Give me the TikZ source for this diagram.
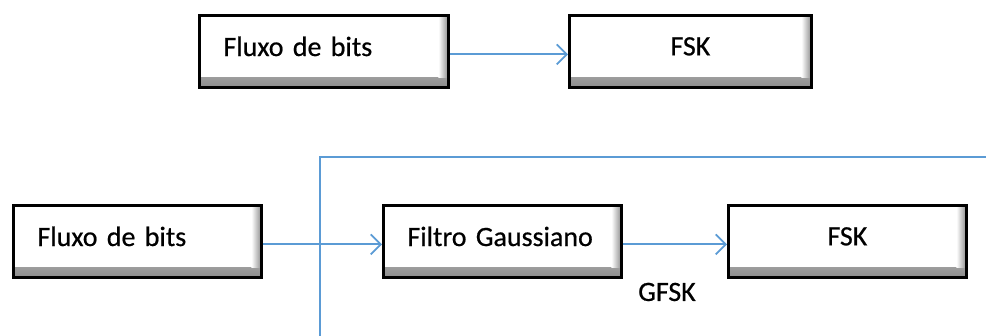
\documentclass[tikz,border=0pt]{standalone}
\usepackage{fontspec}
\setmainfont{Carlito}
\newfontfamily\heavyfont[BoldFont=Carlito, BoldFeatures={FakeBold=0.6}]{Carlito}
\usetikzlibrary{arrows.meta}
\definecolor{lineblue}{RGB}{91,155,213}
\newcommand{\liftlabel}[1]{\raisebox{5pt}[\height][\depth]{#1}}
\tikzset{
  labelfont/.style={font=\heavyfont\bfseries\fontsize{28}{32}\selectfont},
  bevelbox/.style={draw=black, line width=2.8pt, fill=white, inner sep=0pt,
    minimum height=72pt, anchor=north west, labelfont,
    path picture={
      \shade[top color=white, bottom color=black!45]
        ([yshift=10pt]path picture bounding box.south west) rectangle (path picture bounding box.south east);
      \shade[left color=white, right color=black!45]
        ([xshift=-10pt]path picture bounding box.north east) rectangle ([yshift=10pt]path picture bounding box.south east);
      \fill[white] ([xshift=2pt,yshift=-2pt]path picture bounding box.north west) rectangle ([xshift=-10pt,yshift=10pt]path picture bounding box.south east);
    }},
  leftbox/.style={bevelbox, align=left},
  centerbox/.style={bevelbox, align=center},
  flow/.style={draw=lineblue, line width=1.8pt, -{Straight Barb[length=10pt,width=20pt,line width=1.8pt]}},
  frame/.style={draw=lineblue, line width=1.8pt}
}
\begin{document}
\begin{tikzpicture}[x=1pt,y=-1pt]
\useasboundingbox (0,0) rectangle (986,336);
% top row
\node[leftbox, minimum width=249pt, text width=201pt] (f1) at (198,14) {\liftlabel{Fluxo de bits}};
\node[centerbox, minimum width=242pt, text width=242pt] (k1) at (568,14) {\liftlabel{FSK}};
\draw[flow] ([yshift=-3pt]f1.east) -- ([yshift=-3pt]k1.west);
% bottom row
\node[leftbox, minimum width=248pt, text width=200pt] (f2) at (12,204) {\liftlabel{Fluxo de bits}};
\node[leftbox, minimum width=238pt, text width=190pt] (g2) at (382,204) {\liftlabel{Filtro Gaussiano}};
\node[centerbox, minimum width=238pt, text width=238pt] (k2) at (727,204) {\liftlabel{FSK}};
\draw[flow] ([yshift=-3pt]f2.east) -- ([yshift=-3pt]g2.west);
\draw[flow] ([yshift=-3pt]g2.east) -- ([yshift=-3pt]k2.west);
\node[labelfont] (gfsk) at (667,292) {GFSK};
% frame line
\coordinate (vb) at (320,336);
\coordinate (corner) at (320,157);
\coordinate (he) at (986,157);
\draw[frame] (vb) -- (corner) -- (he);
\end{tikzpicture}
\end{document}
